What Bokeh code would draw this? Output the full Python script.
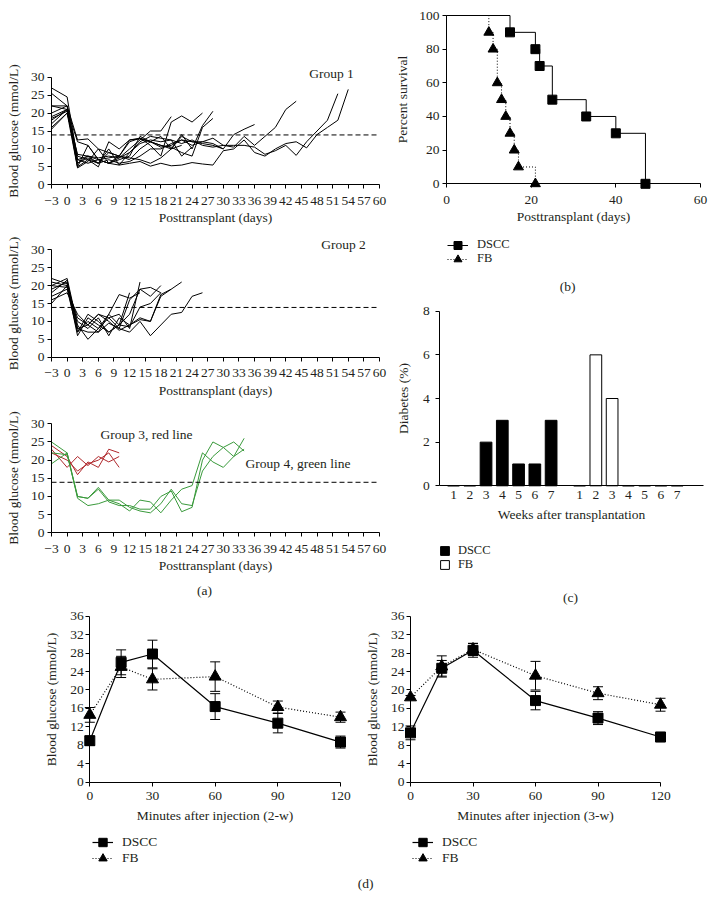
from bokeh.plotting import figure
from bokeh.models import (FixedTicker, Label, Legend, LegendItem, Whisker,
                          TeeHead, ColumnDataSource)
from bokeh.layouts import row, column
from bokeh.embed import file_html
from bokeh.resources import INLINE

FONT = "Liberation Serif"
INK = "#231f20"
FS = "13.5px"

# ---------------- data ----------------
g_days = [-3, 0, 2, 4, 6, 8, 10, 12, 14, 16, 18, 20, 22, 24, 26, 28, 30, 32, 34,
          36, 38, 40, 42, 44, 46, 48, 50, 52, 54]
g_day_ticks = list(range(-3, 61, 3))
g_glucose_ticks = [0, 5, 10, 15, 20, 25, 30]
threshold = 13.9

group1 = [
    [18.0, 21.0, 6.0, 8.0, 7.0, 6.0, 7.5, 10.0, 12.5, 15.0, 15.0, 19.0],
    [20.0, 22.0, 8.0, 7.0, 6.0, 9.0, 8.0, 12.0, 13.0, 11.0, 8.0, 17.5, 19.2, 17.5, 20.0],
    [22.0, 22.0, 12.5, 12.8, 10.0, 6.0, 8.0, 7.0, 10.0, 12.0, 11.0, 10.0, 14.0, 10.0, 16.5, 20.5],
    [25.5, 22.0, 5.0, 7.0, 5.0, 12.0, 10.0, 12.5, 13.0, 12.0, 11.0, 10.5, 9.0, 8.0, 16.0, 18.5],
    [19.0, 21.0, 12.0, 11.0, 7.0, 6.0, 7.0, 8.0, 13.5, 12.0, 10.5, 11.0, 12.5, 12.0, 11.5, 11.0,
     10.0, 14.0, 15.5, 16.8],
    [27.0, 24.5, 7.0, 6.0, 7.0, 7.5, 8.0, 7.5, 7.0, 6.0, 7.5, 10.0, 13.5, 12.0, 12.0, 13.0,
     11.0, 10.5, 13.5, 11.0, 13.5, 16.0, 21.0, 23.3],
    [16.0, 20.0, 8.5, 8.0, 7.5, 8.0, 7.5, 9.0, 11.5, 12.5, 12.0, 12.5, 11.5, 12.5, 11.0, 10.5,
     11.0, 11.0, 11.0, 10.5, 8.5, 9.5, 11.0, 8.2, 12.0, 15.0, 18.0, 25.4],
    [17.0, 21.0, 5.0, 11.0, 7.0, 6.0, 5.5, 6.0, 6.5, 5.2, 6.0, 5.3, 5.5, 6.2, 5.8, 5.5, 9.5,
     10.0, 12.5, 9.0, 8.0, 10.0, 11.5, 12.0, 10.3, 14.0, 16.0, 18.0, 26.6],
    [22.0, 21.0, 6.0, 7.5, 6.0, 10.0, 5.5, 9.0, 12.0, 13.5, 13.0, 12.5, 8.0, 10.5],
    [18.5, 20.5, 7.0, 8.0, 6.0, 7.0, 6.0, 6.5, 8.0, 10.0, 10.0, 11.5, 12.5, 11.0, 12.0, 11.5, 10.0],
    [15.5, 20.0, 4.7, 6.5, 10.0, 9.0, 8.0, 12.5, 12.8, 12.0, 13.5, 10.0, 11.0],
]

group2 = [
    [15.0, 20.0, 6.0, 11.0, 9.0, 7.0, 9.0, 18.0],
    [20.0, 22.0, 9.0, 5.0, 8.0, 11.0, 12.0, 8.0, 21.0],
    [17.0, 19.0, 7.0, 12.0, 10.0, 7.0, 9.0, 12.0, 19.0, 17.0, 20.0],
    [21.0, 20.0, 10.0, 8.0, 11.0, 6.0, 11.0, 9.0, 10.5, 10.0, 17.5, 19.0, 21.0],
    [19.0, 21.0, 8.0, 7.0, 7.0, 9.5, 8.0, 7.0, 10.0, 6.0, 9.0, 12.0, 12.5, 17.0, 18.0],
    [16.0, 18.0, 12.0, 9.0, 12.0, 11.0, 8.0, 16.0, 19.0, 19.5, 18.0],
    [22.0, 20.5, 7.0, 10.0, 8.0, 12.0, 9.0, 8.5, 14.0, 15.0, 18.0],
    [20.0, 19.5, 11.0, 9.0, 12.0, 10.0, 7.5, 9.0, 11.0, 10.0, 17.0, 19.0],
    [18.0, 21.5, 8.0, 9.0, 7.0, 12.0, 17.5, 16.5, 18.0],
]

group3_red = [
    [24.0, 21.0, 16.0, 19.5, 18.0, 23.0, 22.0],
    [23.0, 18.0, 21.0, 18.5, 21.0, 19.5, 21.0],
    [22.0, 20.0, 17.0, 19.0, 20.0, 22.0, 18.0],
]
group4_green = [
    [25.0, 22.0, 10.0, 9.5, 12.5, 9.0, 8.0, 6.0, 9.0, 8.5, 5.5, 9.0, 12.0, 13.0, 22.0, 19.5,
     18.0, 21.0, 26.0],
    [19.0, 22.0, 9.5, 7.5, 8.0, 9.0, 9.0, 7.0, 6.0, 5.5, 8.0, 12.0, 8.0, 7.5, 17.0, 21.0,
     23.5, 25.0, 22.5],
    [22.0, 21.5, 10.0, 9.5, 12.0, 8.5, 7.5, 7.5, 6.5, 6.5, 10.0, 11.5, 5.8, 7.0, 20.0, 25.0,
     23.5, 21.0, 23.0],
]
RED = "#b0282c"
GREEN = "#3a9a3c"

# survival (b)
dscc_days = [0, 15, 21, 22, 25, 33, 40, 47]
dscc_surv = [100, 90, 80, 70, 50, 40, 30, 0]
fb_days = [0, 10, 11, 12, 13, 14, 15, 16, 17, 21]
fb_surv = [100, 90, 80, 60, 50, 40, 30, 20, 10, 0]
b_day_ticks = [0, 20, 40, 60]
b_pct_ticks = [0, 20, 40, 60, 80, 100]

# diabetes bars (c)
weeks = [1, 2, 3, 4, 5, 6, 7]
week_labels = ["1", "2", "3", "4", "5", "6", "7"]
dscc_pct = [0, 0, 2, 3, 1, 1, 3]
fb_pct = [0, 6, 4, 0, 0, 0, 0]
fb_shift = 7.75
c_pct_ticks = [0, 2, 4, 6, 8]

# IPGTT (d)
d_times = [0, 15, 30, 60, 90, 120]
d_time_ticks = [0, 30, 60, 90, 120]
d_glucose_ticks = [0, 4, 8, 12, 16, 20, 24, 28, 32, 36]
w2_dscc = [9.0, 26.0, 27.8, 16.4, 12.8, 8.7]
w2_dscc_err = [1.0, 2.7, 3.0, 2.8, 2.1, 1.3]
w2_fb = [14.6, 25.0, 22.3, 22.9, 16.3, 14.1]
w2_fb_err = [1.6, 2.3, 2.3, 3.2, 1.3, 1.1]
w3_dscc = [10.7, 24.7, 28.6, 17.7, 13.9, 9.8]
w3_dscc_err = [1.5, 1.7, 1.5, 2.0, 1.4, 1.0]
w3_fb = [18.4, 25.1, 28.8, 23.1, 19.3, 16.8]
w3_fb_err = [0.4, 2.3, 1.3, 3.1, 1.4, 1.4]


# ---------------- layout helpers ----------------
class Panel:
    """Maps page pixels to data for a figure whose frame fills the whole figure."""

    def __init__(self, x0, y0, w, h, xa, pxa, xb, pxb, ya, pya, yb, pyb):
        self.x0, self.y0, self.w, self.h = x0, y0, w, h
        self.xa, self.pxa, self.ya, self.pya = xa, pxa, ya, pya
        self.sx = (pxb - pxa) / (xb - xa)
        self.sy = (pya - pyb) / (yb - ya)
        self.x_range = (self.dx(x0), self.dx(x0 + w))
        self.y_range = (self.dy(y0 + h), self.dy(y0))

    def dx(self, px):
        return self.xa + (px - self.pxa) / self.sx

    def dy(self, py):
        return self.ya + (self.pya - py) / self.sy


def base_fig(pn, xbounds, ybounds):
    p = figure(width=pn.w, height=pn.h, x_range=pn.x_range, y_range=pn.y_range,
               output_backend="svg", toolbar_location=None,
               min_border_left=0, min_border_right=0, min_border_top=0, min_border_bottom=0)
    p.grid.visible = False
    p.outline_line_color = None
    p.background_fill_color = "white"
    p.border_fill_color = "white"
    p.xaxis.fixed_location = ybounds[0]
    p.yaxis.fixed_location = xbounds[0]
    p.xaxis.bounds = xbounds
    p.yaxis.bounds = ybounds
    for ax in [p.xaxis[0], p.yaxis[0]]:
        ax.axis_line_color = "black"
        ax.axis_line_width = 1
        ax.major_tick_line_color = "black"
        ax.major_tick_out = 4
        ax.major_tick_in = 0
        ax.minor_tick_line_color = None
        ax.major_label_text_font = FONT
        ax.major_label_text_font_size = FS
        ax.major_label_text_color = INK
        ax.axis_label_text_font = FONT
        ax.axis_label_text_font_size = FS
        ax.axis_label_text_font_style = "normal"
        ax.axis_label_text_color = INK
        ax.major_label_standoff = 3
        ax.axis_label_standoff = 5
    p.xaxis.major_label_standoff = 8
    p.xaxis.axis_label_standoff = 2
    return p


def add_label(p, pn, px, py, text):
    p.add_layout(Label(x=pn.dx(px), y=pn.dy(py), text=text, text_font=FONT,
                       text_font_size=FS, text_color=INK, text_align="center",
                       text_baseline="middle"))


def add_legend_row(p, pn, label, renderers, left_px, center_py, gw, gh, row_h, standoff,
                   font_size=FS):
    """One legend entry, its row centred on page pixel center_py."""
    bottom = center_py + row_h / 2.0
    p.add_layout(Legend(items=[LegendItem(label=label, renderers=renderers)],
                        location=(left_px - pn.x0, pn.y0 + pn.h - bottom),
                        glyph_width=gw, glyph_height=gh, label_height=gh, label_width=10,
                        spacing=0, padding=0, margin=0, label_standoff=standoff,
                        label_text_font=FONT, label_text_font_size=font_size,
                        label_text_color=INK, border_line_color=None,
                        background_fill_alpha=0))


G_XMIN, G_XMAX = g_day_ticks[0], g_day_ticks[-1]


def group_fig(pn, series, colors):
    p = base_fig(pn, (G_XMIN, G_XMAX), (0, 30))
    xs = [g_days[:len(v)] for v in series]
    p.multi_line(xs, series, line_color=colors, line_width=1)
    p.line([G_XMIN, G_XMAX], [threshold, threshold], line_color="black", line_width=1,
           line_dash="5 3")
    p.xaxis.ticker = FixedTicker(ticks=g_day_ticks)
    p.xaxis.major_label_overrides = {-3: "\u22123"}
    p.yaxis.ticker = FixedTicker(ticks=g_glucose_ticks)
    p.xaxis.axis_label = "Posttransplant (days)"
    p.yaxis.axis_label = "Blood glucose (mmol/L)"
    p.yaxis.axis_label_standoff = 7
    return p


LEFT_W = 392
RIGHT_W = 321
LEG_FS = "12.5px"

# ---------------- (a) ----------------
P1 = Panel(0, 0, LEFT_W, 232, -3, 51, 60, 379, 0, 184.3, 30, 76.7)
g1 = group_fig(P1, group1, ["black"] * len(group1))
add_label(g1, P1, 331, 73, "Group 1")

P2 = Panel(0, 232, LEFT_W, 173, -3, 51, 60, 379, 0, 356.7, 30, 249.3)
g2 = group_fig(P2, group2, ["black"] * len(group2))
add_label(g2, P2, 343, 243.5, "Group 2")

P3 = Panel(0, 405, LEFT_W, 201, -3, 51, 60, 379, 0, 532.3, 30, 423.3)
g3 = group_fig(P3, group3_red + group4_green,
               [RED] * len(group3_red) + [GREEN] * len(group4_green))
add_label(g3, P3, 146, 434, "Group 3, red line")
add_label(g3, P3, 297.5, 462.5, "Group 4, green line")
add_label(g3, P3, 204, 590, "(a)")

# ---------------- (b) ----------------
PB = Panel(LEFT_W, 0, RIGHT_W, 300, 0, 446, 60, 700, 0, 183.3, 100, 15)
pb = base_fig(PB, (0, 60), (0, 100))
pb.xaxis.ticker = FixedTicker(ticks=b_day_ticks)
pb.yaxis.ticker = FixedTicker(ticks=b_pct_ticks)
pb.xaxis.axis_label = "Posttransplant (days)"
pb.yaxis.axis_label = "Percent survival"
pb.yaxis.axis_label_standoff = 6
lb1 = pb.step(dscc_days, dscc_surv, mode="after", line_color="black", line_width=1)
sb1 = pb.scatter(dscc_days[1:], dscc_surv[1:], marker="square", size=9, color="black")
lb2 = pb.step(fb_days, fb_surv, mode="after", line_color="black", line_width=1,
              line_dash="1 2")
sb2 = pb.scatter(fb_days[1:], fb_surv[1:], marker="triangle", size=10, color="black")
add_legend_row(pb, PB, "DSCC", [lb1, sb1], 447, 244.5, 21, 20, 20, 9, LEG_FS)
add_legend_row(pb, PB, "FB", [lb2, sb2], 447, 258.5, 21, 20, 20, 9, LEG_FS)
add_label(pb, PB, 567, 286, "(b)")

# ---------------- (c) ----------------
PC = Panel(LEFT_W, 300, RIGHT_W, 306, 1, 453, 7 + fb_shift, 676.7, 0, 485.3, 8, 310.7)
c_xlo, c_xhi = PC.dx(439.3), PC.dx(702.7)
pc = base_fig(PC, (c_xlo, c_xhi), (0, 8))
fb_pos = [w + fb_shift for w in weeks]
rc1 = pc.vbar(x=weeks, top=dscc_pct, width=0.72, fill_color="black", line_color="black")
rc2 = pc.vbar(x=fb_pos, top=fb_pct, width=0.72, fill_color="white", line_color="black")
pc.xaxis.ticker = FixedTicker(ticks=weeks + fb_pos)
overrides = {}
for w, lab in zip(weeks, week_labels):
    overrides[w] = lab
for w, lab in zip(fb_pos, week_labels):
    overrides[w] = lab
pc.xaxis.major_label_overrides = overrides
pc.xaxis.major_tick_out = 0
pc.xaxis.major_label_standoff = 5
pc.xaxis.axis_label_standoff = 5
pc.yaxis.ticker = FixedTicker(ticks=c_pct_ticks)
pc.yaxis.major_label_standoff = 6
pc.yaxis.axis_label_standoff = 9
pc.xaxis.axis_label = "Weeks after transplantation"
pc.yaxis.axis_label = "Diabetes (%)"
add_legend_row(pc, PC, "DSCC", [rc1], 438.9, 549.5, 11, 11, 16, 8, LEG_FS)
add_legend_row(pc, PC, "FB", [rc2], 438.9, 563.5, 11, 11, 16, 8, LEG_FS)
add_label(pc, PC, 570, 597, "(c)")


# ---------------- (d) ----------------
def ipgtt_fig(pn, dscc, dscc_err, fb, fb_err, xlabel, legend_px):
    p = base_fig(pn, (0, 120), (0, 36))
    p.xaxis.ticker = FixedTicker(ticks=d_time_ticks)
    p.yaxis.ticker = FixedTicker(ticks=d_glucose_ticks)
    p.xaxis.axis_label = xlabel
    p.yaxis.axis_label = "Blood glucose (mmol/L)"
    p.yaxis.major_label_standoff = 2
    p.yaxis.axis_label_standoff = 8
    p.xaxis.major_label_standoff = 6
    p.xaxis.axis_label_standoff = 4
    for vals, errs in ((dscc, dscc_err), (fb, fb_err)):
        src = ColumnDataSource(dict(t=d_times,
                                    up=[v + e for v, e in zip(vals, errs)],
                                    lo=[v - e for v, e in zip(vals, errs)]))
        p.add_layout(Whisker(source=src, base="t", upper="up", lower="lo",
                             dimension="height", line_color="black", line_width=1,
                             upper_head=TeeHead(size=10, line_color="black", line_width=1),
                             lower_head=TeeHead(size=10, line_color="black", line_width=1)))
    l1 = p.line(d_times, dscc, line_color="black", line_width=1.2)
    s1 = p.scatter(d_times, dscc, marker="square", size=10, color="black")
    l2 = p.line(d_times, fb, line_color="black", line_width=1.2, line_dash="1 2")
    s2 = p.scatter(d_times, fb, marker="triangle", size=12, color="black")
    add_legend_row(p, pn, "DSCC", [l1, s1], legend_px, 842, 21, 24, 24, 9)
    add_legend_row(p, pn, "FB", [l2, s2], legend_px, 858, 21, 24, 24, 9)
    return p


PD1 = Panel(0, 606, 356, 289, 0, 89.3, 120, 340, 0, 781.7, 36, 615.7)
PD2 = Panel(356, 606, 357, 289, 0, 410, 120, 660, 0, 781.7, 36, 615.7)
d1 = ipgtt_fig(PD1, w2_dscc, w2_dscc_err, w2_fb, w2_fb_err,
               "Minutes after injection (2-w)", 92)
d2 = ipgtt_fig(PD2, w3_dscc, w3_dscc_err, w3_fb, w3_fb_err,
               "Minutes after injection (3-w)", 412)
add_label(d2, PD2, 365, 883, "(d)")

top = row(column(g1, g2, g3), column(pb, pc))
page = column(top, row(d1, d2))

open("out.html", "w").write(file_html(page, INLINE))
